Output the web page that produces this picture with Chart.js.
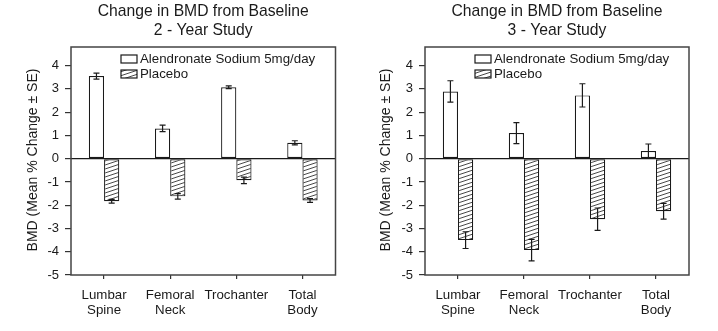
<!DOCTYPE html>
<html>
<head>
<meta charset="utf-8">
<script src="https://cdn.jsdelivr.net/npm/chart.js@4.4.1/dist/chart.umd.min.js"></script>
<style>
  html, body { margin: 0; padding: 0; background: #fff; }
  #wrap { position: relative; width: 718px; height: 331px; }
  canvas { position: absolute; top: 0; }
  #chart2yr { left: 0; }
  #chart3yr { left: 359px; }
</style>
</head>
<body>
<div id="wrap">
  <canvas id="chart2yr" width="359" height="331"></canvas>
  <canvas id="chart3yr" width="359" height="331"></canvas>
</div>
<script>
// Categories and tick values
const categories = [['Lumbar', 'Spine'], ['Femoral', 'Neck'], 'Trochanter', ['Total', 'Body']];
const yTicks = [-5, -4, -3, -2, -1, 0, 1, 2, 3, 4];
const seriesNames = ['Alendronate Sodium 5mg/day', 'Placebo'];

// 2-year study (mean % change and SE)
const alendronate2yr = [3.55, 1.30, 3.07, 0.68];
const alendronate2yrSE = [0.13, 0.14, 0.06, 0.09];
const placebo2yr = [-1.83, -1.62, -0.93, -1.80];
const placebo2yrSE = [0.08, 0.12, 0.14, 0.08];

// 3-year study
const alendronate3yr = [2.89, 1.10, 2.72, 0.33];
const alendronate3yrSE = [0.46, 0.45, 0.50, 0.30];
const placebo3yr = [-3.50, -3.93, -2.60, -2.26];
const placebo3yrSE = [0.36, 0.46, 0.48, 0.34];

const INK = '#1a1a1a';
const FONT = '"Liberation Sans", Arial, sans-serif';

// diagonal hatch fill used for the placebo bars
function makeHatch(ctx) {
  const tile = document.createElement('canvas');
  tile.width = 12;
  tile.height = 4;
  const g = tile.getContext('2d');
  g.fillStyle = '#fff';
  g.fillRect(0, 0, 12, 4);
  g.strokeStyle = '#333';
  g.lineWidth = 0.9;
  [-4, 0, 4].forEach(dy => {
    g.beginPath();
    g.moveTo(0, 4 + dy);
    g.lineTo(12, dy);
    g.stroke();
  });
  return ctx.createPattern(tile, 'repeat');
}

// error bars, zero line, frame, titles and legend
const decorPlugin = {
  id: 'decor',
  afterDatasetsDraw(chart) {
    const ctx = chart.ctx;
    const area = chart.chartArea;
    const y = chart.scales.y;
    ctx.save();
    ctx.strokeStyle = INK;
    ctx.lineWidth = 1.2;
    chart.data.datasets.forEach((ds, i) => {
      const meta = chart.getDatasetMeta(i);
      meta.data.forEach((bar, j) => {
        const v = ds.data[j], e = ds.errors[j];
        const top = y.getPixelForValue(v + e);
        const bot = y.getPixelForValue(v - e);
        ctx.beginPath();
        ctx.moveTo(bar.x, top); ctx.lineTo(bar.x, bot);
        ctx.moveTo(bar.x - 3, top); ctx.lineTo(bar.x + 3, top);
        ctx.moveTo(bar.x - 3, bot); ctx.lineTo(bar.x + 3, bot);
        ctx.stroke();
      });
    });
    // zero line
    const y0 = y.getPixelForValue(0);
    ctx.beginPath();
    ctx.moveTo(area.left, y0);
    ctx.lineTo(area.right, y0);
    ctx.stroke();
    // frame
    ctx.strokeStyle = '#444';
    ctx.lineWidth = 1.5;
    ctx.strokeRect(area.left, area.top, area.right - area.left, area.bottom - area.top);
    ctx.restore();
  },
  afterDraw(chart, args, opts) {
    const ctx = chart.ctx;
    const area = chart.chartArea;
    const cx = (area.left + area.right) / 2;
    ctx.save();
    ctx.fillStyle = INK;
    ctx.textAlign = 'center';
    ctx.textBaseline = 'middle';
    ctx.font = '15.7px ' + FONT;
    opts.title.forEach((line, k) => ctx.fillText(line, cx, 12 + k * 18.5));

    // rotated y title
    ctx.font = '14px ' + FONT;
    ctx.translate(area.left - opts.yTitleOffset, (area.top + area.bottom) / 2 - 1);
    ctx.rotate(-Math.PI / 2);
    ctx.fillText('BMD (Mean % Change \u00b1 SE)', 0, 0);
    ctx.restore();

    // legend inside the plot box
    ctx.save();
    ctx.font = '13.3px ' + FONT;
    ctx.textBaseline = 'middle';
    ctx.fillStyle = INK;
    ctx.strokeStyle = INK;
    ctx.lineWidth = 1.2;
    chart.data.datasets.forEach((ds, i) => {
      const bx = area.left + 50, by = 59 + i * 15;
      ctx.fillStyle = ds.backgroundColor;
      ctx.fillRect(bx, by - 4, 16, 8);
      ctx.strokeRect(bx, by - 4, 16, 8);
      ctx.fillStyle = INK;
      ctx.fillText(ds.label, bx + 19, by);
    });
    ctx.restore();
  }
};

function buildChart(id, alen, alenSE, plac, placSE, title, padRight, axisWidth, yTitleOffset) {
  const canvas = document.getElementById(id);
  const ctx = canvas.getContext('2d');
  return new Chart(ctx, {
    type: 'bar',
    data: {
      labels: categories,
      datasets: [
        {
          label: seriesNames[0],
          data: alen,
          errors: alenSE,
          backgroundColor: '#fff',
          borderColor: INK,
          borderWidth: 1.2,
          borderSkipped: false
        },
        {
          label: seriesNames[1],
          data: plac,
          errors: placSE,
          backgroundColor: makeHatch(ctx),
          borderColor: INK,
          borderWidth: 1.2,
          borderSkipped: false
        }
      ]
    },
    options: {
      responsive: false,
      animation: false,
      events: [],
      categoryPercentage: 0.46,
      barPercentage: 1.0,
      layout: { padding: { top: 47, right: padRight, bottom: 0, left: 0 } },
      plugins: {
        legend: { display: false },
        tooltip: { enabled: false },
        decor: { title: title, yTitleOffset: yTitleOffset }
      },
      scales: {
        x: {
          offset: true,
          border: { display: false },
          grid: { offset: false, drawOnChartArea: false, drawTicks: true, tickLength: 4, color: '#333', lineWidth: 1.2 },
          ticks: { color: INK, padding: 9, autoSkip: false, maxRotation: 0, font: { family: FONT, size: 13.3, lineHeight: 1.13 } },
          afterFit(axis) { axis.height = 56; }
        },
        y: {
          min: -5,
          max: 4.8,
          border: { display: false },
          afterBuildTicks(axis) { axis.ticks = yTicks.map(v => ({ value: v })); },
          grid: { drawOnChartArea: false, drawTicks: true, tickLength: 6, color: '#333', lineWidth: 1.2 },
          ticks: { color: INK, padding: 6, font: { family: FONT, size: 13 } },
          afterFit(axis) { axis.width = axisWidth; }
        }
      }
    },
    plugins: [decorPlugin]
  });
}

buildChart('chart2yr', alendronate2yr, alendronate2yrSE, placebo2yr, placebo2yrSE,
  ['Change in BMD from Baseline', '2 - Year Study'], 23.5, 71, 38);
buildChart('chart3yr', alendronate3yr, alendronate3yrSE, placebo3yr, placebo3yrSE,
  ['Change in BMD from Baseline', '3 - Year Study'], 29, 66, 39);
</script>
</body>
</html>
